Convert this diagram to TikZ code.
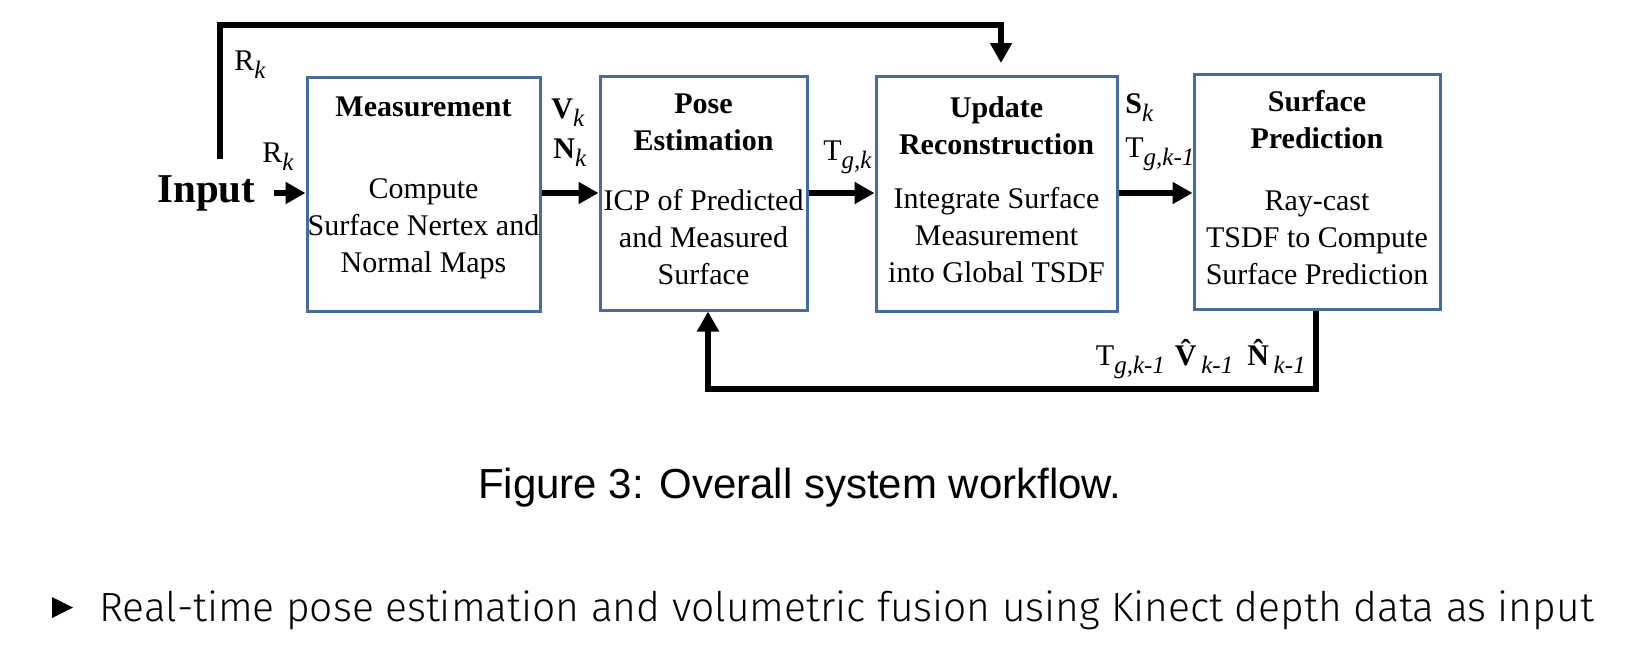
\documentclass[tikz,border=0pt]{standalone}
\usepackage{fontspec}
\setmainfont{Liberation Serif}
\newfontfamily\capfont{Liberation Sans}
\newfontfamily\notefont{Fira Sans Light}
\usetikzlibrary{arrows.meta}
\definecolor{boxcolor}{RGB}{70,108,158}
\newcommand{\lowsub}[1]{\raisebox{-4pt}{\fontsize{12.5}{14}\selectfont\mdseries\itshape #1}}

\tikzset{
  blockbox/.style={draw=boxcolor, line width=1.5pt, fill=white, inner sep=0pt},
  boxtitle/.style={font=\fontsize{15}{18.5}\selectfont\bfseries, align=center, inner sep=0pt},
  boxbody/.style={font=\fontsize{15}{18.5}\selectfont, align=center, inner sep=0pt},
  sublabel/.style={font=\fontsize{15}{18.5}\selectfont, inner sep=0pt, anchor=base west},
  flowarrow/.style={line width=3pt, -{Triangle[length=10pt,width=10.5pt]}},
  captext/.style={font=\capfont\fontsize{21}{24}\selectfont, inner sep=0pt, anchor=base},
  notetext/.style={font=\notefont\fontsize{20.4}{24}\selectfont, inner sep=0pt, anchor=base west},
}

\begin{document}
\begin{tikzpicture}[x=0.5pt,y=-0.5pt]
\useasboundingbox (0,0) rectangle (1628,655);
% the four blocks
\node[blockbox, minimum width=116.5pt, minimum height=117pt] (meas) at (423.5,194) {};
\node[blockbox, minimum width=103.5pt, minimum height=117pt] (pose) at (703.5,193) {};
\node[blockbox, minimum width=120.5pt, minimum height=117.5pt] (upd) at (996.5,193.5) {};
\node[blockbox, minimum width=123pt, minimum height=117.5pt] (surf) at (1317,191.5) {};
% block texts
\node[boxtitle] (measT) at (423.5,107) {Measurement};
\node[boxbody] (measB) at (423.5,229) {Compute\\Surface Nertex and\\Normal Maps};
\node[boxtitle] (poseT) at (703.5,122) {Pose\\Estimation};
\node[boxbody] (poseB) at (703.5,237) {ICP of Predicted\\and Measured\\Surface};
\node[boxtitle] (updT) at (996.5,126) {Update\\Reconstruction};
\node[boxbody] (updB) at (996.5,235) {Integrate Surface\\Measurement\\into Global TSDF};
\node[boxtitle] (surfT) at (1317,120) {Surface\\Prediction};
\node[boxbody] (surfB) at (1317,238) {Ray-cast\\TSDF to Compute\\Surface Prediction};
% input and labels
\node[sublabel, font=\fontsize{20.5}{24}\selectfont\bfseries] (input) at (157,202) {Input};
\node[sublabel] (rkTop) at (234,70) {R\lowsub{k}};
\node[sublabel] (rkIn) at (262,162) {R\lowsub{k}};
\node[sublabel] (vk) at (551,118) {\textbf{V}\lowsub{k}};
\node[sublabel] (nk) at (553,158) {\textbf{N}\lowsub{k}};
\node[sublabel] (tgk) at (823,160) {T\lowsub{g,k}};
\node[sublabel] (sk) at (1125,113) {\textbf{S}\lowsub{k}};
\node[sublabel] (tgkPrev) at (1125,157) {T\lowsub{g,k-1}};
\node[sublabel, anchor=base east] (fbLabel) at (1306,365) {T\lowsub{g,k-1}\hspace{5pt}\textbf{\^V}\lowsub{k-1}\hspace{7pt}\textbf{\^N}\lowsub{k-1}};
% connectors
\coordinate (inTail) at (274,193);
\coordinate (loopStart) at (220,159);
\coordinate (loopTop) at (220,25);
\coordinate (updIn) at (1001,63);
\coordinate (fbOut) at (1316,389);
\coordinate (fbCorner) at (708,389);
\draw[flowarrow] (inTail) -- (inTail -| meas.west);
\draw[flowarrow] (meas.east |- inTail) -- (pose.west |- inTail);
\draw[flowarrow] (pose.east |- inTail) -- (upd.west |- inTail);
\draw[flowarrow] (upd.east |- inTail) -- (surf.west |- inTail);
\draw[flowarrow] (loopStart) -- (loopTop) -| (updIn);
\draw[flowarrow] (surf.south -| fbOut) -- (fbOut) -- (fbCorner) -- (pose.south -| fbCorner);
% caption and note
\node[captext] (caption) at (800,498) {Figure 3: Overall system workflow.};
\fill (52,597) -- (73,607.5) -- (52,618) -- cycle;
\node[notetext] (note) at (99,621) {Real-time pose estimation and volumetric fusion using Kinect depth data as input};
\end{tikzpicture}
\end{document}
